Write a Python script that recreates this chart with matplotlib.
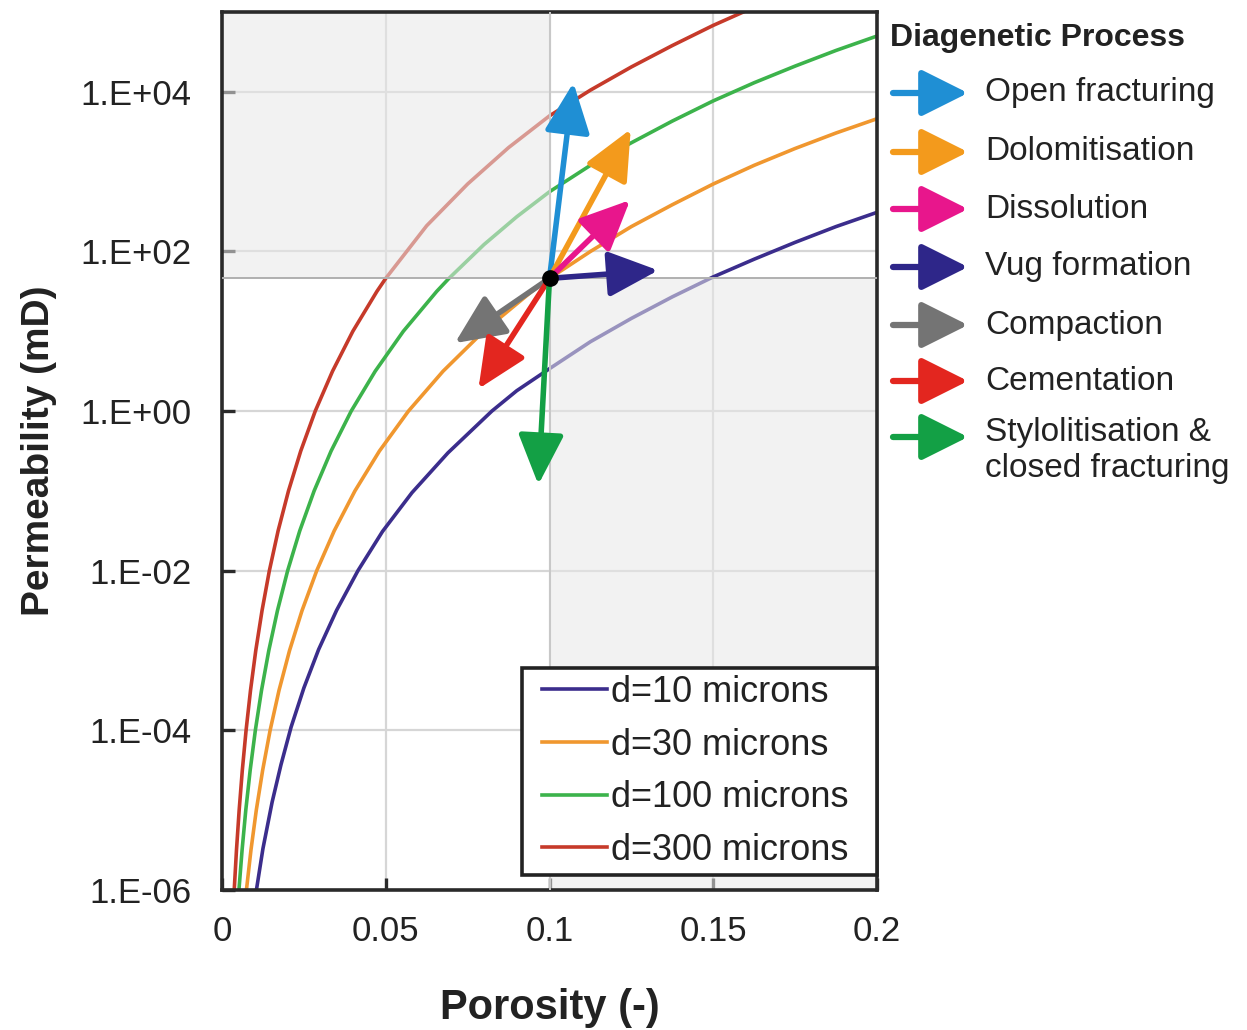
import matplotlib
matplotlib.use('Agg')
import matplotlib.pyplot as plt
from matplotlib.patches import Rectangle
from matplotlib.ticker import FixedLocator, NullLocator

plt.rcParams['font.family'] = ['Liberation Sans', 'DejaVu Sans']

# ---------------- data ----------------
series_labels = ['d=10 microns', 'd=30 microns', 'd=100 microns', 'd=300 microns']
series_colors = ['#3b2d8c', '#f0972f', '#3cb34b', '#c63a2a']

phi_d10 = [0.0102, 0.0125, 0.0153, 0.018, 0.0211, 0.025, 0.0295, 0.035, 0.0415, 0.049,
           0.058, 0.069, 0.0824, 0.090, 0.100, 0.1125, 0.125, 0.1375, 0.150, 0.1625,
           0.175, 0.1875, 0.200]
k_d10 = [8.3e-7, 3.3e-6, 1.26e-5, 3.7e-5, 1.1e-4, 3.4e-4, 1.03e-3, 3.2e-3, 1.0e-2, 3.1e-2,
         0.095, 0.30, 1.0, 1.8, 3.4, 7.4, 14.5, 27, 48, 80,
         130, 205, 309]

phi_d30 = [0.00746, 0.00884, 0.01047, 0.01241, 0.01469, 0.0174, 0.02062, 0.02443, 0.02892,
           0.03426, 0.04059, 0.04807, 0.05693, 0.0675, 0.0799, 0.0946, 0.100, 0.1125,
           0.125, 0.1375, 0.150, 0.1625, 0.175, 0.1875, 0.200]
k_d30 = [1e-6, 3.16e-6, 1e-5, 3.16e-5, 1e-4, 3.16e-4, 1e-3, 3.16e-3, 1e-2,
         3.16e-2, 0.1, 0.316, 1.0, 3.16, 10, 31.6, 46, 100,
         205, 385, 700, 1200, 1950, 3050, 4600]

phi_d100 = [0.00517, 0.00613, 0.00726, 0.0086, 0.01018, 0.01206, 0.01429, 0.01693, 0.02004,
            0.02374, 0.02813, 0.03331, 0.03945, 0.04678, 0.05537, 0.06556, 0.0693, 0.080,
            0.090, 0.100, 0.1125, 0.125, 0.1375, 0.150, 0.1625, 0.175, 0.1875, 0.200]
k_d100 = [1e-6, 3.16e-6, 1e-5, 3.16e-5, 1e-4, 3.16e-4, 1e-3, 3.16e-3, 1e-2,
          3.16e-2, 0.1, 0.316, 1.0, 3.16, 10, 31.6, 46, 122,
          272, 560, 1200, 2300, 4300, 7700, 13000, 21000, 33000, 50000]

phi_d300 = [0.00373, 0.00442, 0.00524, 0.0062, 0.00735, 0.0087, 0.01031, 0.01222, 0.01446,
            0.01713, 0.0203, 0.02404, 0.02847, 0.03375, 0.03995, 0.0473, 0.050, 0.0625,
            0.075, 0.0875, 0.100, 0.1125, 0.125, 0.1375, 0.150, 0.1625]
k_d300 = [1e-6, 3.16e-6, 1e-5, 3.16e-5, 1e-4, 3.16e-4, 1e-3, 3.16e-3, 1e-2,
          3.16e-2, 0.1, 0.316, 1.0, 3.16, 10, 31.6, 46, 210,
          700, 2000, 5000, 10500, 20500, 38000, 68000, 115000]

center_phi = 0.1
center_k = 46

process_labels = ['Open fracturing', 'Dolomitisation', 'Dissolution', 'Vug formation',
                  'Compaction', 'Cementation', 'Stylolitisation &\nclosed fracturing']
process_colors = ['#1f8fd4', '#f39a1c', '#e8168c', '#2e2689', '#747474', '#e3261f', '#13a045']
process_end_phi = [0.1073, 0.1248, 0.1246, 0.1332, 0.0711, 0.0783, 0.0966]
process_end_k = [13000, 3400, 440, 58, 7.1, 1.9, 0.12]

x_ticks = [0, 0.05, 0.1, 0.15, 0.2]
x_tick_labels = ['0', '0.05', '0.1', '0.15', '0.2']
y_ticks = [1e-6, 1e-4, 1e-2, 1e0, 1e2, 1e4]
y_tick_labels = ['1.E-06', '1.E-04', '1.E-02', '1.E+00', '1.E+02', '1.E+04']

# ---------------- figure ----------------
W, H = 1247, 1030
fig = plt.figure(figsize=(W / 100, H / 100), dpi=100)
fig.patch.set_facecolor('white')
ax = fig.add_axes([222 / W, 140 / H, 655 / W, 878 / H])
ax.set_yscale('log')
ax.set_xlim(0, 0.2)
ax.set_ylim(1e-6, 1e5)

# grid
ax.xaxis.set_major_locator(FixedLocator(x_ticks))
ax.yaxis.set_major_locator(FixedLocator(y_ticks))
ax.yaxis.set_minor_locator(NullLocator())
ax.set_xticklabels(x_tick_labels)
ax.set_yticklabels(y_tick_labels)
ax.grid(True, color='#d6d6d6', lw=1.6, zorder=0)
ax.set_axisbelow(True)

# curves
curves = [(phi_d10, k_d10), (phi_d30, k_d30), (phi_d100, k_d100), (phi_d300, k_d300)]
handles = []
for (px, ky), lab, col in zip(curves, series_labels, series_colors):
    ln, = ax.plot(px, ky, color=col, lw=2.6, label=lab, zorder=2, solid_joinstyle='round')
    handles.append(ln)

# grey quadrants (semi-transparent, above the curves)
ax.add_patch(Rectangle((0, center_k), center_phi, 1e5 - center_k, facecolor='#e8e8e8',
                       edgecolor='none', alpha=0.55, zorder=2.5))
ax.add_patch(Rectangle((center_phi, 1e-6), 0.2 - center_phi, center_k - 1e-6, facecolor='#e8e8e8',
                       edgecolor='none', alpha=0.55, zorder=2.5))
ax.axhline(center_k, color='#b0b0b0', lw=1.4, zorder=2.6)
ax.axvline(center_phi, color='#c8c8c8', lw=1.4, zorder=2.6)

# process arrows
for ep, ek, col in zip(process_end_phi, process_end_k, process_colors):
    ax.annotate('', xy=(ep, ek), xytext=(center_phi, center_k),
                arrowprops=dict(arrowstyle='-|>,head_length=1.1,head_width=0.5',
                                color=col, lw=4, shrinkA=0, shrinkB=0,
                                mutation_scale=28),
                zorder=4)
ax.plot([center_phi], [center_k], 'o', color='black', ms=11, zorder=5)

# spines / ticks
for s in ax.spines.values():
    s.set_linewidth(2.6)
    s.set_color('#2a2a2a')
ax.tick_params(axis='both', which='major', direction='in', length=9, width=2.4,
               color='#2a2a2a', labelsize=25, labelcolor='#222222')
ax.tick_params(axis='y', pad=22)
ax.tick_params(axis='x', pad=18)

ax.set_xlabel('Porosity (-)', fontsize=30, fontweight='bold', color='#222222')
ax.set_ylabel('Permeability (mD)', fontsize=28, fontweight='bold', color='#222222')
ax.xaxis.set_label_coords(0.5, -0.112)
ax.yaxis.set_label_coords(-0.252, 0.5)

# curve legend: explicit box + frameless legend
bx0, by0 = (522 - 222) / 655, (890 - 875) / 878
bx1, by1 = 1.0, (890 - 668) / 878
ax.add_patch(Rectangle((bx0, by0), bx1 - bx0, by1 - by0, transform=ax.transAxes,
                       facecolor='white', edgecolor='#222222', lw=2.6, zorder=5.5,
                       clip_on=False))
leg = ax.legend(handles=handles, loc='center left',
                bbox_to_anchor=(bx0 + 20 / 655, (by0 + by1) / 2), fontsize=26,
                handlelength=1.8, handletextpad=0.1, labelspacing=0.49,
                borderpad=0.0, borderaxespad=0.0, frameon=False)
leg.set_zorder(6)
for t in leg.get_texts():
    t.set_color('#222222')

# process legend (right side)
fig.text(890 / W, 1 - 38 / H, 'Diagenetic Process', fontsize=23, fontweight='bold',
         color='#222222', ha='left', va='center')
row_y = [93, 152, 209, 267, 325, 381, 437]
for lab, col, yy in zip(process_labels, process_colors, row_y):
    ax.annotate('', xy=(968, H - yy), xytext=(893, H - yy), xycoords='figure pixels',
                textcoords='figure pixels', annotation_clip=False,
                arrowprops=dict(arrowstyle='-|>,head_length=1.1,head_width=0.55',
                                color=col, lw=4.5, shrinkA=0, shrinkB=0,
                                mutation_scale=26))
    if '\n' in lab:
        fig.text(985 / W, 1 - (yy - 20) / H, lab, fontsize=24, color='#222222',
                 ha='left', va='top', linespacing=1.2)
    else:
        fig.text(985 / W, 1 - yy / H, lab, fontsize=24, color='#222222',
                 ha='left', va='center')

fig.savefig('out.png', dpi=100, facecolor='white')
